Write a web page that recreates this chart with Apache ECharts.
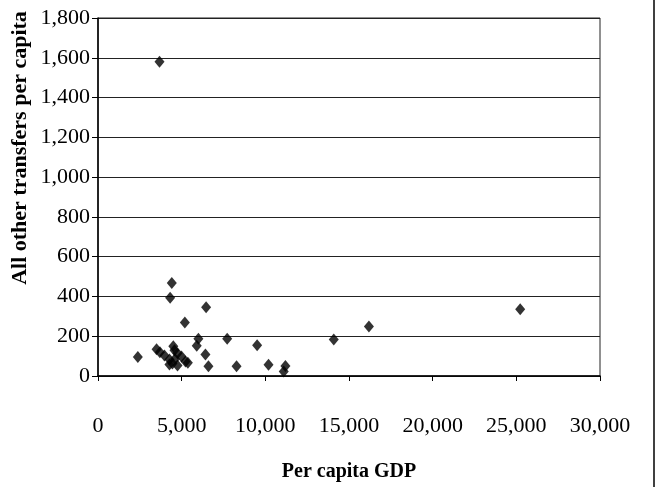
<!DOCTYPE html>
<html>
<head>
<meta charset="utf-8">
<script src="https://cdn.jsdelivr.net/npm/echarts@6/dist/echarts.min.js"></script>
<style>html,body{margin:0;padding:0;background:#fff;}#c{width:660px;height:487px;}</style>
</head>
<body>
<div id="c"></div>
<script>
var gdp = [3675, 2380, 4410, 4310, 6460, 5190, 6000, 5900, 7720, 9510, 6420, 6600, 8280, 10190, 11100, 11200, 14090, 16190, 25230, 3500, 3700, 3970, 4270, 4450, 4500, 4570, 4750, 4990, 5230, 4750, 4270, 5370, 4600];
var transfers = [1580, 96, 468, 393, 346, 269, 187, 152, 187, 155, 108, 49, 49, 56, 22, 50, 183, 249, 335, 135, 120, 103, 83, 63, 150, 130, 115, 98, 73, 53, 58, 66, 85];
var xTitle = 'Per capita GDP';
var yTitle = 'All other transfers per capita';

var pts = gdp.map(function (g, i) { return [g, transfers[i]]; });
var fmt = function (v) { return v.toLocaleString('en-US'); };
var serif = '"Liberation Serif", "Times New Roman", serif';

var chart = echarts.init(document.getElementById('c'));
chart.setOption({
  animation: false,
  backgroundColor: '#fff',
  grid: { left: 98, right: 60, top: 18, bottom: 110, show: true, borderColor: '#222', borderWidth: 1, backgroundColor: 'transparent' },
  xAxis: {
    type: 'value', min: 0, max: 30000, interval: 5000,
    name: xTitle, nameLocation: 'middle', nameGap: 86,
    nameTextStyle: { fontFamily: serif, fontWeight: 'bold', fontSize: 20, color: '#000' },
    axisLine: { show: true, lineStyle: { color: '#000', width: 1.5 } },
    axisTick: { show: true, inside: false, length: 5, lineStyle: { color: '#000' } },
    axisLabel: { margin: 39, fontFamily: serif, fontSize: 22, color: '#000', formatter: fmt },
    splitLine: { show: false }
  },
  yAxis: {
    type: 'value', min: 0, max: 1800, interval: 200,
    axisLine: { show: true, lineStyle: { color: '#000', width: 1.5 } },
    axisTick: { show: true, inside: false, length: 6, lineStyle: { color: '#000' } },
    axisLabel: { margin: 8, fontFamily: serif, fontSize: 22, color: '#000', formatter: fmt },
    splitLine: { show: true, lineStyle: { color: '#222', width: 1 } }
  },
  graphic: [
    { type: 'text', x: 20, y: 148, rotation: Math.PI / 2,
      style: { text: yTitle, font: 'bold 22px ' + serif, fill: '#000', textAlign: 'center', textVerticalAlign: 'middle' } },
    { type: 'line', shape: { x1: 654, y1: 0, x2: 654, y2: 487 }, style: { stroke: '#000', lineWidth: 1.5 } }
  ],
  series: [{
    type: 'scatter',
    data: pts,
    symbol: 'diamond',
    symbolSize: [10, 12],
    itemStyle: { color: '#000' }
  }]
});
</script>
</body>
</html>
